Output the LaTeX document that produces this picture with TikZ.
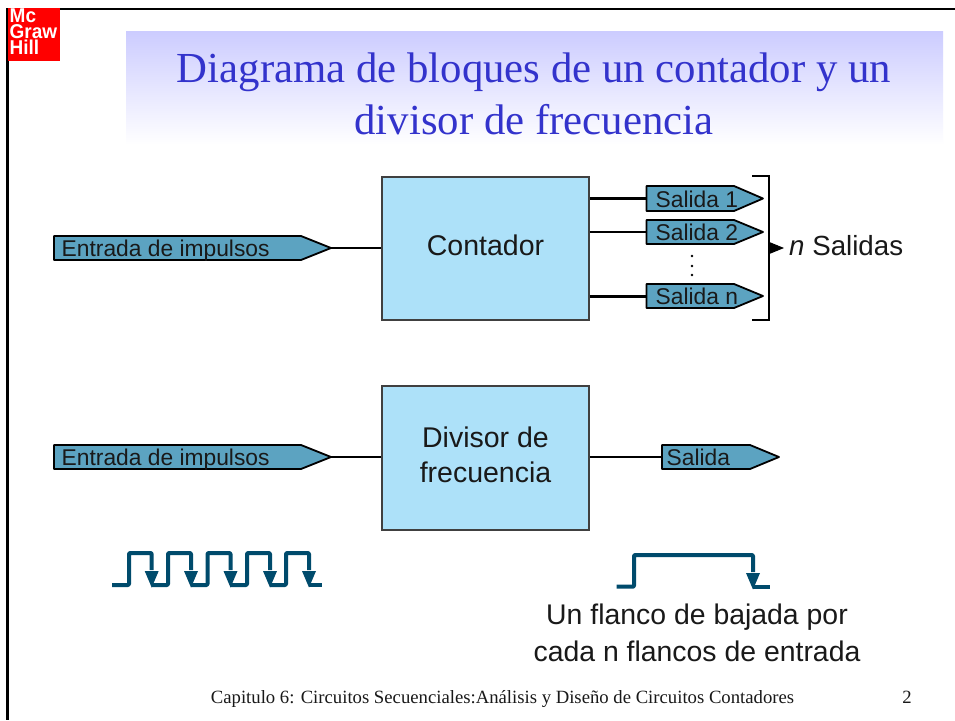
\documentclass[tikz,border=0pt]{standalone}
\usepackage{fontspec}
\setmainfont{Liberation Sans}
\newfontfamily\serifn{Liberation Serif}
\usetikzlibrary{arrows.meta}
\definecolor{tagblue}{HTML}{5CA3C1}
\definecolor{boxblue}{HTML}{ADE1F9}
\definecolor{pulse}{HTML}{004B6C}
\definecolor{titleblue}{HTML}{3333CC}
\definecolor{titlepale}{HTML}{CCCCFF}
\definecolor{logored}{HTML}{FF0000}
\tikzset{
  block/.style={draw=black!75,line width=1.6pt,fill=boxblue,inner sep=0pt},
  blocktext/.style={font=\fontsize{28.5}{35}\selectfont,align=center,inner sep=0pt,text=black!90},
  tagtext/.style={font=\fontsize{22.8}{26}\selectfont,anchor=base west,inner sep=0pt,text=black!90},
  tagshape/.style={draw=black,fill=tagblue,line width=1.8pt,line join=round},
  wire/.style={draw=black,line width=2pt},
  wavepath/.style={draw=pulse,line width=4pt,line join=round,rounded corners=1pt},
  titletext/.style={font=\serifn\fontsize{42.8}{52}\selectfont,text=titleblue,align=center,inner sep=0pt},
  bodytext/.style={font=\fontsize{28.4}{37}\selectfont,align=center,inner sep=0pt,text=black!90},
  foot/.style={font=\serifn\fontsize{18.7}{20}\selectfont,inner sep=0pt,anchor=base,text=black!90}
}
% [text offset] name, left, top, shoulder, tip, bottom, text
\newcommand{\tagbox}[8][7.5]{%
  \path[tagshape] (#3,#4) -- (#5,#4) -- (#6,{(#4+#7)/2}) -- (#5,#7) -- (#3,#7) -- cycle;
  \coordinate (#2) at (#3,{(#4+#7)/2});
  \coordinate (#2-tip) at (#6,{(#4+#7)/2});
  \node[tagtext] (#2-text) at ({#3+#1},{#7-3.8}) {#8};
}
\begin{document}
\begin{tikzpicture}[x=1pt,y=-1pt]
\useasboundingbox (0,0) rectangle (955,720);
\fill[white] (0,0) rectangle (955,720);
% frame
\fill[black] (6,7.5) rectangle (955,9.5);
\fill[black] (6,7.5) rectangle (9,720);
% logo
\fill[logored] (8,8) rectangle (60,61);
\node[font=\bfseries\fontsize{20}{16}\selectfont,text=white,align=left,inner sep=0pt,anchor=north west,xscale=.95] (logo) at (9.5,8.5) {Mc\\Graw\\Hill};
% title
\shade[top color=titlepale,bottom color=white,shading angle=0] (126,31) rectangle (943,145);
\node[titletext] (title) at (534,94) {Diagrama de bloques de un contador y un\\divisor de frecuencia};
% blocks
\node[block,minimum width=207pt,minimum height=143pt] (cont) at (485.5,248.5) {};
\node[blocktext] (contl) at (485.5,245.5) {Contador};
\node[block,minimum width=207pt,minimum height=144pt] (div) at (485.5,458) {};
\node[blocktext] (divl) at (485.5,454.5) {Divisor de\\frecuencia};
% tags
\tagbox{in1}{54}{236}{301}{331}{260}{Entrada de impulsos}
\tagbox{in2}{54}{445}{301}{331}{469}{Entrada de impulsos}
\tagbox[9]{s1}{646.5}{186}{734}{763}{211}{Salida 1}
\tagbox[9]{s2}{646.5}{220}{734}{763}{244}{Salida 2}
\tagbox[9]{sn}{646.5}{284}{734}{763}{308}{Salida n}
\tagbox[4.5]{so}{662}{445}{750}{779}{469}{Salida}
% connectors
\draw[wire] (in1-tip) -- (cont.west |- in1-tip);
\draw[wire] (in2-tip) -- (div.west |- in2-tip);
\draw[wire,line width=3pt] (cont.east |- s1) -- (s1);
\draw[wire] (cont.east |- s2) -- (s2);
\draw[wire,line width=3pt] (cont.east |- sn) -- (sn);
\draw[wire] (div.east |- so) -- (so);
% dots
\foreach \yy in {256,266,275} \fill[black] (692,\yy) circle (1.3);
% bracket
\draw[black,line width=2.4pt] (752,176) -- (769,176) -- (769,320) -- (752,320);
\coordinate (brk) at (769,248);
\node[font=\fontsize{27.7}{32}\selectfont,anchor=base west,inner sep=0pt,text=black!90] (ns) at (789,255) {\textit{n} Salidas};
\draw[black,line width=1pt,shorten >=5pt,-{Triangle[length=15pt,width=12pt]}] (brk) -- (ns.west |- brk);
% pulses
\draw[wavepath] (112,585) -- (129,585) -- (129,553) -- (151.7,553) -- (151.7,570);
\foreach \a/\b/\c in {151.7/168/191,191/207.5/230.5,230.5/247/270,270/286/309}
  \draw[wavepath] (\a,585) -- (\b,585) -- (\b,553) -- (\c,553) -- (\c,570);
\draw[wavepath] (309,585) -- (321.7,585);
\foreach \a in {151.7,191,230.5,270,309}
  \fill[pulse] (\a-7,571) -- (\a+7,571) -- (\a,587.5) -- cycle;
\draw[wavepath] (616.7,586.7) -- (634,586.7) -- (634,555) -- (753,555) -- (753,572);
\draw[wavepath] (753,586.7) -- (770,586.7);
\fill[pulse] (753-7,573) -- (753+7,573) -- (753,589.5) -- cycle;
% note
\node[bodytext] (note) at (697,632.5) {Un flanco de bajada por\\cada n flancos de entrada};
% footer
\node[foot] (ft) at (502.5,703) {Capitulo 6: Circuitos Secuenciales:Análisis y Diseño de Circuitos Contadores};
\node[foot] (pg) at (907,703) {2};
\end{tikzpicture}
\end{document}
